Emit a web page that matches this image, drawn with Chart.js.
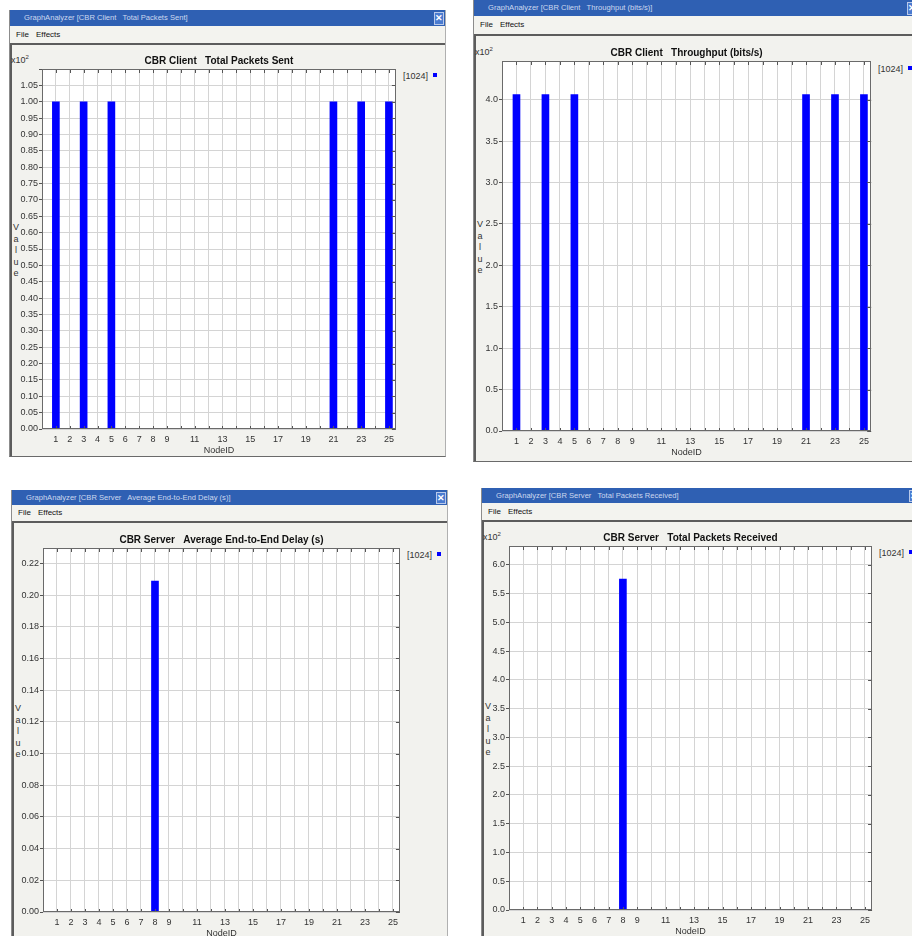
<!DOCTYPE html>
<html><head><meta charset="utf-8">
<script src="https://cdn.jsdelivr.net/npm/chart.js@4.4.0/dist/chart.umd.min.js"></script>
<style>
html,body{margin:0;padding:0;background:#fff;width:912px;height:936px;overflow:hidden;position:relative;font-family:"Liberation Sans",Arial,sans-serif;}
.abs{position:absolute;}
.win{position:absolute;background:#f2f2ee;box-sizing:border-box;border-left:1px solid #8c8c8c;border-right:1px solid #b0b0b0;border-bottom:1px solid #6a6a6a;overflow:hidden;}
.tb{position:absolute;left:0;right:0;top:0;background:#2f60b3;color:#cdd8ef;font-size:7.6px;box-sizing:border-box;white-space:pre;}
.close{position:absolute;top:2px;width:10px;background:#4a7bd0;border:1px solid #b9c9ea;color:#fff;font-size:9px;font-weight:bold;text-align:center;box-sizing:border-box;}
.menu{position:absolute;left:0;right:0;background:#f3f3ef;font-size:8px;color:#111;}
.content{position:absolute;left:0;right:0;bottom:0;background:#f2f2ee;border-top:2px solid #5c5c5c;border-left:2px solid #5c5c5c;box-sizing:border-box;}
.lbl{position:absolute;font-size:9px;color:#333;white-space:nowrap;}
canvas{position:absolute;}
</style></head><body>
<script>
// ---- data ----
const nodeMin = 0, nodeMax = 25.5;
const xTickLabels = [1,2,3,4,5,6,7,8,9,11,13,15,17,19,21,23,25];
const seriesName = '[1024]';

const sentNodes = [1,3,5,21,23,25];
const sentValues = [100,100,100,100,100,100];

const throughputNodes = [1,3,5,21,23,25];
const throughputValues = [406,406,406,406,406,406];

const delayNodes = [8];
const delayValues = [0.2088];

const receivedNodes = [8];
const receivedValues = [575];

const windowTitles = [
  'GraphAnalyzer [CBR Client   Total Packets Sent]',
  'GraphAnalyzer [CBR Client   Throughput (bits/s)]',
  'GraphAnalyzer [CBR Server   Average End-to-End Delay (s)]',
  'GraphAnalyzer [CBR Server   Total Packets Received]'
];
const chartTitles = [
  'CBR Client   Total Packets Sent',
  'CBR Client   Throughput (bits/s)',
  'CBR Server   Average End-to-End Delay (s)',
  'CBR Server   Total Packets Received'
];
const yStepSizes = [5, 50, 0.02, 50];
const yDivisors = [100, 100, 1, 100];
const yDecimals = [2, 1, 2, 1];
const yExponentLabel = [true, true, false, true];

// ---- layout (positions only) ----
const layouts = [
  {win:[9,10,437,447], tbH:16, menuH:17, plot:[42,69,397,429]},
  {win:[473,0,446,462], tbH:16, menuH:18, plot:[502,61,872,431]},
  {win:[11,490,437,460], tbH:15, menuH:16, plot:[43,548,401,912]},
  {win:[481,488,440,460], tbH:15, menuH:17, plot:[509,546,873,910]}
];

const seriesSets = [
  [sentNodes, sentValues],
  [throughputNodes, throughputValues],
  [delayNodes, delayValues],
  [receivedNodes, receivedValues]
];

function mk(tag, cls, css, html, parent) {
  const e = document.createElement(tag);
  if (cls) e.className = cls;
  Object.assign(e.style, css || {});
  if (html != null) e.innerHTML = html;
  (parent || document.body).appendChild(e);
  return e;
}
const px = v => v + 'px';

const frameTicks = {
  id: 'frameTicks',
  beforeDraw(chart) {
    const {ctx, chartArea: a} = chart;
    ctx.save(); ctx.fillStyle = '#ffffff';
    ctx.fillRect(a.left, a.top, a.right - a.left, a.bottom - a.top);
    ctx.restore();
  },
  afterDatasetsDraw(chart) {
    const {ctx, chartArea: a, scales: {x, y}} = chart;
    ctx.save();
    ctx.strokeStyle = '#555'; ctx.lineWidth = 1; ctx.beginPath();
    x.ticks.forEach(t => {
      if (t.value <= 0) return;
      const p = Math.round(x.getPixelForValue(t.value)) + 0.5;
      ctx.moveTo(p, a.top); ctx.lineTo(p, a.top + 4);
      ctx.moveTo(p, a.bottom); ctx.lineTo(p, a.bottom - 3);
    });
    y.ticks.forEach(t => {
      const p = Math.round(y.getPixelForValue(t.value)) + 0.5;
      ctx.moveTo(a.right, p); ctx.lineTo(a.right - 4, p);
    });
    ctx.stroke();
    ctx.strokeStyle = '#6a6a6a';
    ctx.strokeRect(Math.round(a.left) + 0.5, Math.round(a.top) + 0.5, Math.round(a.right - a.left) - 1, Math.round(a.bottom - a.top) - 1);
    ctx.restore();
  }
};

layouts.forEach((L, i) => {
  const [wx, wy, ww, wh] = L.win;
  const [pl, pt, pr, pb] = L.plot;
  // window chrome
  const win = mk('div', 'win', {left: px(wx), top: px(wy), width: px(ww), height: px(wh)});
  mk('div', 'tb', {height: px(L.tbH), lineHeight: px(L.tbH), paddingLeft: '14px'}, windowTitles[i], win);
  mk('div', 'close', {right: '1px', height: px(L.tbH - 3), lineHeight: px(L.tbH - 5)}, '✕', win);
  mk('div', 'menu', {top: px(L.tbH), height: px(L.menuH), lineHeight: px(L.menuH)},
     '<span style="position:absolute;left:6px">File</span><span style="position:absolute;left:26px">Effects</span>', win);
  const contentTop = wy + L.tbH + L.menuH;
  mk('div', 'content', {top: px(L.tbH + L.menuH)}, null, win);

  // labels outside the plot
  if (yExponentLabel[i]) {
    mk('div', 'lbl', {left: px(wx + 2), top: px(pt - 14), fontSize: '9px'}, 'x10<span style="font-size:6px;position:relative;top:-4px">2</span>');
  }
  const pc = (pt + pb) / 2;
  mk('div', 'lbl', {left: px(wx + 2), top: px(pc - 27), width: '10px', textAlign: 'center', lineHeight: '11.6px', fontSize: '9px'}, 'V<br>a<br>l<br>u<br>e');
  mk('div', 'lbl', {left: px(pr + 6), top: px(pt + (i === 1 ? 3 : 2)), fontSize: '9px'}, seriesName + '<span style="display:inline-block;width:4px;height:4px;background:#0000ff;margin-left:5px;vertical-align:2px"></span>');

  // canvas
  const cx = wx + 3, cy = contentTop + 2;
  const cw = pr + 2 - cx, ch = pb + 30 - cy;
  const cv = mk('canvas', null, {left: px(cx), top: px(cy), width: px(cw), height: px(ch)});
  cv.width = cw; cv.height = ch;

  const [nodes, vals] = seriesSets[i];
  const yMax = Math.round(Math.max(...vals) * 1.1 * 1e6) / 1e6;
  const div = yDivisors[i], dec = yDecimals[i];
  const titleFont = 10, titleLH = titleFont * 1.2;
  const nodeIdCenter = pb + 21.5;

  new Chart(cv, {
    type: 'bar',
    data: {
      datasets: [{
        label: seriesName,
        data: nodes.map((n, k) => ({x: n, y: vals[k]})),
        backgroundColor: '#0000ff',
        borderWidth: 0,
        barThickness: 7
      }]
    },
    options: {
      responsive: false, animation: false, devicePixelRatio: 1,
      layout: {padding: {left: 0, top: 0, right: cx + cw - pr, bottom: 0}},
      plugins: {
        legend: {display: false},
        tooltip: {enabled: false},
        title: {
          display: true, text: chartTitles[i], fullSize: false,
          color: '#111', font: {family: 'Liberation Sans', size: titleFont, weight: 'bold'},
          padding: {top: pt - cy - titleLH - 1.5, bottom: 1.5}
        }
      },
      scales: {
        x: {
          type: 'linear', min: nodeMin, max: nodeMax, offset: false,
          grid: {offset: false, color: '#d4d4d4', drawTicks: false},
          border: {display: false},
          ticks: {
            stepSize: 1, includeBounds: false, autoSkip: false, maxRotation: 0, padding: 5,
            color: '#333', font: {family: 'Liberation Sans', size: 9},
            callback: v => xTickLabels.includes(v) ? String(v) : ''
          },
          title: {display: true, text: 'NodeID', color: '#333', font: {family: 'Liberation Sans', size: 9},
                  padding: {top: 0, bottom: (cy + ch) - nodeIdCenter - 5.4}},
          afterFit: s => { s.height = (cy + ch) - pb; }
        },
        y: {
          min: 0, max: yMax,
          grid: {color: '#d4d4d4', tickLength: 3, tickColor: '#555'},
          border: {display: false},
          ticks: {
            stepSize: yStepSizes[i], includeBounds: false, padding: 1,
            color: '#333', font: {family: 'Liberation Sans', size: 9},
            callback: v => (Math.abs(v - yMax) < 1e-9) ? '' : (v / div).toFixed(dec)
          },
          afterFit: s => { s.width = pl - cx; }
        }
      }
    },
    plugins: [frameTicks]
  });
});
</script>
</body></html>
